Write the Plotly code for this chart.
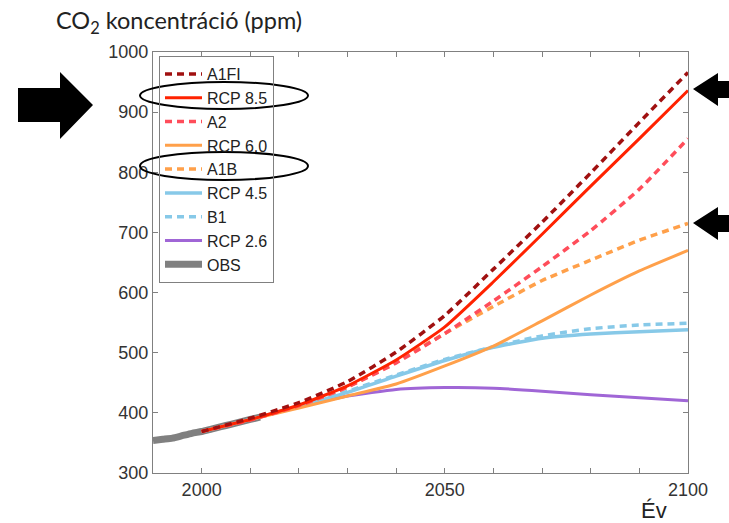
import plotly.graph_objects as go

# ---- data ----
years = [2000, 2010, 2020, 2030, 2040, 2050, 2060, 2070, 2080, 2090, 2100]
a1fi = [369, 391, 417, 452, 501, 562, 639, 717, 799, 883, 966]
rcp85 = [369, 389, 413, 445, 488, 543, 618, 697, 777, 856, 936]
a2 = [369, 388, 412, 443, 483, 532, 586, 643, 703, 772, 856]
rcp60 = [369, 389, 408, 428, 448, 478, 511, 553, 596, 636, 670]
a1b = [369, 389, 412, 443, 485, 532, 577, 620, 654, 687, 715]
rcp45 = [369, 389, 411, 434, 461, 487, 509, 524, 531, 535, 538]
b1 = [369, 389, 412, 436, 463, 489, 510, 528, 540, 546, 549]
rcp26 = [369, 389, 410, 428, 439, 442, 441, 436, 430, 425, 420]
obs_years = [1990, 1992, 1994, 1996, 1998, 2000, 2002, 2004, 2006, 2008, 2010, 2012]
obs = [354, 356, 358, 362, 366, 369, 373, 377, 381, 385, 389, 393]

x_ticks = [2000, 2050, 2100]
y_ticks = [300, 400, 500, 600, 700, 800, 900, 1000]

W, H = 729, 523
L, R, T, B = 153, 41, 52, 50
PW, PH = W - L - R, H - T - B


def px(x):
    return (x - L) / PW


def py(y):
    return (H - B - y) / PH


fig = go.Figure()

series = [
    ("OBS", obs_years, obs, "#808080", "solid", 7, 9),
    ("RCP 2.6", years, rcp26, "#a066d6", "solid", 3, 8),
    ("RCP 4.5", years, rcp45, "#87c9e8", "solid", 3.5, 6),
    ("B1", years, b1, "#87c9e8", "7px,5px", 3.5, 7),
    ("RCP 6.0", years, rcp60, "#ffa04a", "solid", 3, 4),
    ("A1B", years, a1b, "#ffa04a", "7px,5px", 3.5, 5),
    ("A2", years, a2, "#ff4d5a", "7px,5px", 3.5, 3),
    ("RCP 8.5", years, rcp85, "#ff2200", "solid", 3, 2),
    ("A1FI", years, a1fi, "#a01010", "7px,5px", 3.5, 1),
]
for name, xs, ys, col, dash, w, rank in series:
    fig.add_trace(go.Scatter(
        x=xs, y=ys, name=name, mode="lines",
        line=dict(color=col, dash=dash, width=w, shape="spline", smoothing=0.5),
        legendrank=rank,
    ))

axis_common = dict(
    showline=True, linecolor="#808080", linewidth=1.2, mirror="allticks",
    ticks="inside", ticklen=5, tickcolor="#808080", showgrid=False,
    zeroline=False, tickfont=dict(family="Liberation Sans, Arial", size=18, color="#333"),
)
fig.update_xaxes(range=[1990, 2100], tickvals=x_ticks,
                 minor=dict(tick0=2000, dtick=10, ticks="inside", ticklen=5,
                            tickcolor="#808080", showgrid=False),
                 **axis_common)
fig.update_yaxes(range=[300, 1000], tickvals=y_ticks, **axis_common)

shapes = []
# ellipses around legend entries
for (x0, y0, x1, y1) in [(140, 82, 308, 109), (140, 152, 308, 180)]:
    shapes.append(dict(type="circle", xref="paper", yref="paper",
                       x0=px(x0), x1=px(x1), y0=py(y1), y1=py(y0),
                       line=dict(color="black", width=2)))


def arrow(points):
    d = "M " + " L ".join(f"{px(a):.5f},{py(b):.5f}" for a, b in points) + " Z"
    return dict(type="path", xref="paper", yref="paper", path=d,
                fillcolor="black", line=dict(color="black", width=0))


shapes.append(arrow([(18, 88), (60, 88), (60, 72), (93, 105), (60, 139), (60, 122), (18, 122)]))
for ty in (89, 223):
    shapes.append(arrow([(731, ty - 8), (718, ty - 8), (718, ty - 16), (693, ty),
                         (718, ty + 17), (718, ty + 9), (731, ty + 9)]))

annotations = [
    dict(text="CO<sub>2</sub> koncentráció (ppm)", xref="paper", yref="paper",
         x=px(54), y=py(22), xanchor="left", yanchor="middle", showarrow=False,
         font=dict(family="Lato, Open Sans", size=23.5, color="#222")),
    dict(text="Év", xref="paper", yref="paper", x=px(654), y=py(510),
         xanchor="center", yanchor="middle", showarrow=False,
         font=dict(family="Liberation Sans, Arial", size=22, color="#222")),
]

fig.update_layout(
    width=W, height=H, margin=dict(l=L, r=R, t=T, b=B),
    paper_bgcolor="white", plot_bgcolor="white",
    shapes=shapes, annotations=annotations,
    showlegend=True,
    legend=dict(x=px(159), y=py(56), xanchor="left", yanchor="top",
                bgcolor="rgba(0,0,0,0)", bordercolor="#808080", borderwidth=1,
                font=dict(family="Liberation Sans, Arial", size=16, color="#222"),
                traceorder="normal", tracegroupgap=0, itemwidth=37),
)

fig.write_html("out.html")
